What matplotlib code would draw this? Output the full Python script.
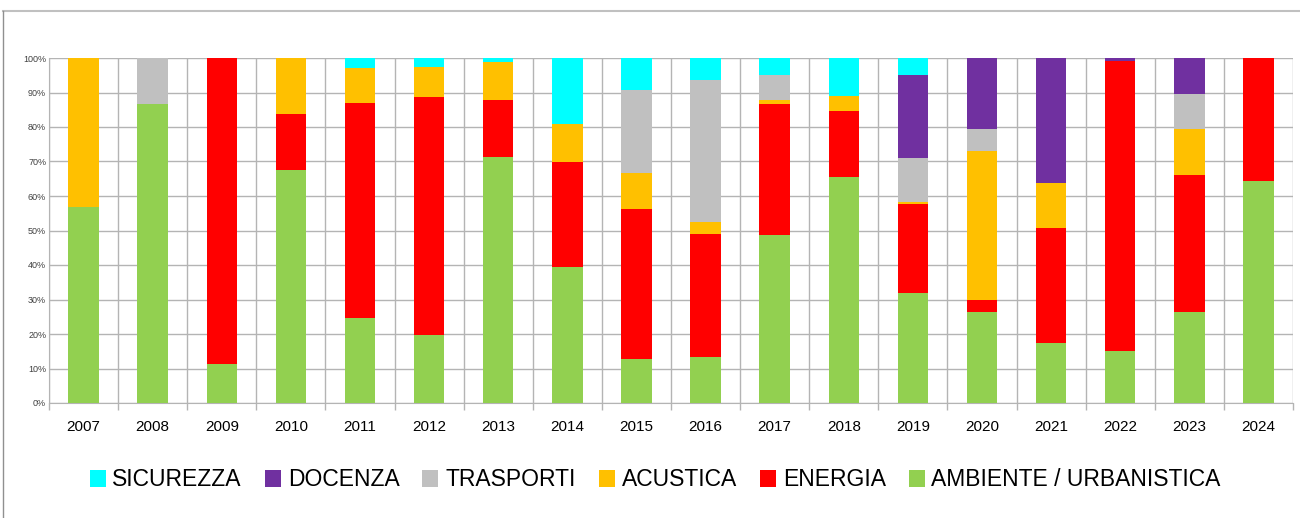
import numpy as np
import matplotlib
matplotlib.use("Agg")
import matplotlib.pyplot as plt
from matplotlib.lines import Line2D

# --- dati (quote % per anno) ---
anni = ["2007", "2008", "2009", "2010", "2011", "2012", "2013", "2014", "2015",
        "2016", "2017", "2018", "2019", "2020", "2021", "2022", "2023", "2024"]
ambiente = [56.9, 86.6, 11.3, 67.5, 24.6, 19.8, 71.4, 39.3, 12.7,
            13.3, 48.8, 65.6, 31.8, 26.3, 17.3, 15.1, 26.3, 64.3]
energia = [0.0, 0.0, 88.7, 16.2, 62.4, 68.9, 16.4, 30.7, 43.6,
           35.7, 37.8, 18.9, 26.0, 3.6, 33.3, 83.9, 39.8, 35.7]
acustica = [43.1, 0.0, 0.0, 16.3, 10.2, 8.6, 11.0, 10.9, 10.4,
            3.4, 1.1, 4.4, 0.6, 43.1, 13.2, 0.0, 13.4, 0.0]
trasporti = [0.0, 13.4, 0.0, 0.0, 0.0, 0.0, 0.0, 0.0, 23.9,
             41.3, 7.3, 0.0, 12.7, 6.5, 0.0, 0.0, 10.0, 0.0]
docenza = [0.0, 0.0, 0.0, 0.0, 0.0, 0.0, 0.0, 0.0, 0.0,
           0.0, 0.0, 0.0, 23.9, 20.5, 36.2, 1.0, 10.5, 0.0]
sicurezza = [0.0, 0.0, 0.0, 0.0, 2.8, 2.7, 1.2, 19.1, 9.4,
             6.3, 5.0, 11.1, 5.0, 0.0, 0.0, 0.0, 0.0, 0.0]

serie = [
    ("AMBIENTE / URBANISTICA", ambiente, "#92D050"),
    ("ENERGIA", energia, "#FF0000"),
    ("ACUSTICA", acustica, "#FFC000"),
    ("TRASPORTI", trasporti, "#C0C0C0"),
    ("DOCENZA", docenza, "#7030A0"),
    ("SICUREZZA", sicurezza, "#00FFFF"),
]

plt.rcParams["font.family"] = ["Liberation Sans", "DejaVu Sans"]
GRID = "#b4b4b4"

fig = plt.figure(figsize=(13, 5.18), dpi=100)
ax = fig.add_axes([49 / 1300, 1 - 403 / 518, 1244 / 1300, 345 / 518])

x = np.arange(len(anni))
# normalizza a 100% come il grafico in pila 100% di Excel
tot = np.sum([np.array(v) for _, v, _ in serie], axis=0)
bottom = np.zeros(len(anni))
handles = []
for nome, vals, col in serie:
    h = np.array(vals) / tot
    b = ax.bar(x, h, 0.44, bottom=bottom, color=col, label=nome, zorder=3)
    bottom += h
    handles.append(b)

ax.set_xlim(-0.5, len(anni) - 0.5)
ax.set_ylim(0, 1)
ax.set_yticks(np.linspace(0, 1, 11))
ax.set_yticklabels([f"{int(round(v * 100))}%" for v in np.linspace(0, 1, 11)],
                   fontsize=6.5, color="#404040")
ax.set_xticks(x)
ax.set_xticklabels(anni, fontsize=11)
ax.set_xticks(np.arange(-0.5, len(anni)), minor=True)
ax.tick_params(axis="x", which="major", length=0, pad=12)
ax.tick_params(axis="x", which="minor", length=5, color=GRID, width=1)
ax.tick_params(axis="y", length=0, pad=2)
ax.grid(axis="y", color=GRID, lw=1, zorder=0)
ax.grid(axis="x", which="minor", color=GRID, lw=1, zorder=0)
for s in ("top", "right"):
    ax.spines[s].set_visible(False)
for s in ("left", "bottom"):
    ax.spines[s].set_color(GRID)

leg = fig.legend(handles[::-1], [n for n, _, _ in serie][::-1], ncol=6,
                 loc="center", bbox_to_anchor=(0.504, 1 - 480 / 518),
                 frameon=False, handlelength=0.7, handleheight=0.7,
                 handletextpad=0.3, columnspacing=1.0,
                 prop={"size": 16.5})

# cornice del grafico
fig.add_artist(Line2D([3 / 1300, 1], [1 - 10.7 / 518] * 2, color="#c0c0c0", lw=1.5))
fig.add_artist(Line2D([3 / 1300] * 2, [0, 1 - 10.7 / 518], color="#909090", lw=1))

fig.savefig("out.png", dpi=100)
